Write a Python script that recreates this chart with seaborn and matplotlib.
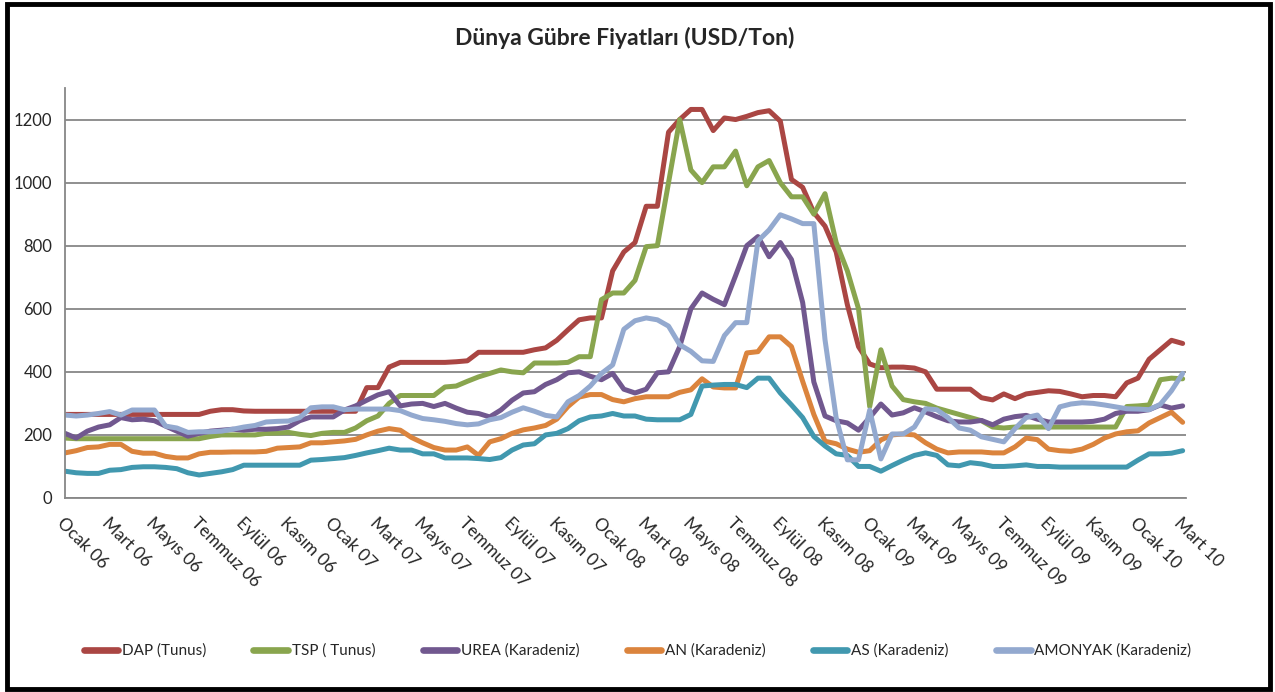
import numpy as np
import pandas as pd
import matplotlib
matplotlib.use("Agg")
import matplotlib.pyplot as plt
from matplotlib.lines import Line2D
from matplotlib.patches import Rectangle
import seaborn as sns

# Yarım aylık okumalar, Ocak 2006 - Mart 2010 (USD/Ton)
DAP = [265, 265, 265, 265, 265, 265, 265, 265, 265, 265,
       265, 265, 265, 275, 280, 280, 276, 275, 275, 275,
       275, 275, 275, 275, 275, 275, 275, 350, 350, 415,
       430, 430, 430, 430, 430, 432, 435, 462, 462, 462,
       462, 462, 470, 476, 500, 533, 565, 571, 571, 720,
       780, 810, 925, 925, 1160, 1200, 1232, 1232, 1165, 1205,
       1200, 1210, 1222, 1228, 1195, 1010, 985, 905, 862, 780,
       613, 480, 425, 413, 415, 415, 412, 400, 345, 345,
       345, 345, 318, 311, 330, 315, 330, 335, 340, 338,
       330, 321, 325, 325, 321, 365, 380, 440, 470, 500,
       490]

TSP = [190, 188, 188, 188, 188, 188, 188, 188, 188, 188,
       188, 188, 188, 195, 200, 200, 200, 200, 205, 206,
       208, 202, 198, 205, 208, 208, 222, 245, 260, 300,
       325, 325, 325, 325, 352, 355, 370, 384, 395, 406,
       400, 397, 428, 428, 428, 430, 448, 448, 629, 650,
       650, 690, 797, 800, 1000, 1200, 1040, 1000, 1050, 1050,
       1100, 990, 1050, 1070, 1000, 955, 955, 900, 965, 810,
       720, 600, 290, 470, 355, 312, 305, 300, 285, 275,
       265, 255, 245, 225, 222, 225, 225, 225, 225, 225,
       225, 225, 225, 225, 225, 290, 292, 295, 375, 380,
       378]

UREA = [205, 190, 212, 225, 232, 255, 248, 250, 245, 228,
        212, 196, 205, 212, 215, 218, 215, 218, 218, 220,
        225, 245, 257, 257, 257, 279, 292, 310, 327, 337,
        292, 298, 300, 290, 300, 285, 272, 268, 257, 279,
        310, 333, 337, 360, 375, 397, 400, 386, 375, 395,
        345, 333, 345, 397, 400, 480, 600, 650, 630, 613,
        705, 800, 829, 765, 810, 756, 620, 368, 260, 245,
        238, 215, 255, 298, 263, 270, 286, 273, 258, 245,
        241, 241, 246, 232, 250, 258, 262, 250, 241, 241,
        241, 241, 243, 250, 268, 275, 275, 280, 295, 285,
        292]

AN = [143, 150, 160, 162, 170, 170, 148, 142, 142, 132,
      127, 127, 140, 145, 145, 146, 146, 146, 148, 158,
      160, 162, 175, 175, 178, 181, 186, 200, 212, 220,
      215, 192, 175, 160, 152, 152, 162, 135, 178, 188,
      205, 216, 222, 230, 250, 290, 320, 328, 328, 312,
      305, 315, 321, 321, 321, 335, 343, 378, 352, 349,
      349, 460, 464, 511, 511, 480, 370, 265, 180, 172,
      155, 145, 150, 184, 200, 203, 200, 175, 155, 143,
      146, 146, 146, 143, 143, 162, 190, 185, 155, 150,
      148, 155, 170, 190, 203, 210, 213, 238, 255, 272,
      240]

AS = [85, 80, 78, 78, 88, 90, 97, 99, 99, 97,
      93, 80, 73, 78, 83, 90, 104, 104, 104, 104,
      104, 104, 120, 122, 125, 128, 135, 143, 150, 158,
      152, 152, 140, 140, 127, 127, 127, 125, 122, 128,
      152, 168, 172, 200, 205, 220, 245, 257, 260, 268,
      260, 260, 250, 248, 248, 248, 265, 355, 358, 360,
      360, 350, 380, 380, 333, 295, 255, 195, 165, 140,
      135, 100, 100, 85, 103, 120, 135, 143, 135, 105,
      102, 112, 108, 100, 100, 102, 105, 100, 100, 98,
      98, 98, 98, 98, 98, 98, 120, 140, 140, 142,
      150]

AMONYAK = [263, 260, 263, 268, 274, 263, 279, 279, 279, 228,
           222, 208, 210, 210, 212, 218, 225, 230, 241, 243,
           244, 255, 286, 289, 289, 280, 282, 282, 282, 282,
           277, 263, 252, 248, 243, 236, 232, 235, 248, 255,
           272, 286, 275, 262, 257, 305, 325, 355, 395, 422,
           535, 562, 571, 565, 545, 486, 465, 435, 433, 515,
           556, 556, 815, 850, 898, 885, 870, 870, 502, 254,
           121, 121, 279, 124, 203, 203, 225, 283, 280, 255,
           222, 215, 194, 186, 178, 220, 255, 263, 220, 289,
           298, 302, 300, 295, 289, 283, 282, 280, 297, 340,
           395]

seriler = ["DAP (Tunus)", "TSP ( Tunus)", "UREA (Karadeniz)",
           "AN (Karadeniz)", "AS (Karadeniz)", "AMONYAK (Karadeniz)"]
renkler = ["#AA4643", "#89A54E", "#71588F", "#DB843D", "#4198AF", "#93A9CF"]

etiketler = []
for yil in ["06", "07", "08", "09"]:
    for ay in ["Ocak", "Mart", "Mayıs", "Temmuz", "Eylül", "Kasım"]:
        etiketler.append(f"{ay} {yil}")
etiketler += ["Ocak 10", "Mart 10"]

degerler = [DAP, TSP, UREA, AN, AS, AMONYAK]
ay_ekseni = np.arange(len(DAP)) / 2  # yarım ay adımları, ay cinsinden
df = pd.concat([pd.DataFrame({"ay": ay_ekseni, "fiyat": v, "seri": s})
                for s, v in zip(seriler, degerler)], ignore_index=True)

sns.set_style("white")
plt.rcParams["font.family"] = ["Lato", "DejaVu Sans"]

W, H = 1275, 692
fig = plt.figure(figsize=(W / 100, H / 100), dpi=100)
ax = fig.add_axes([65 / W, 1 - 498 / H, (1186 - 65) / W, (498 - 88) / H])

sns.lineplot(data=df, x="ay", y="fiyat", hue="seri", hue_order=seriler,
             palette=renkler, linewidth=3.6, ax=ax, legend=False,
             solid_joinstyle="round", solid_capstyle="round")

gri = "#878787"
ax.set_xlim(0, 50.15)
ax.set_ylim(0, 1300)
ax.set_yticks(range(0, 1201, 200))
ax.set_xticks(np.arange(0, 51, 2))
ax.set_xticklabels(etiketler, rotation=-45, ha="left", va="top",
                   rotation_mode="anchor")
ax.yaxis.grid(True, color=gri, lw=1.3)
ax.set_axisbelow(True)
for s in ["top", "right"]:
    ax.spines[s].set_visible(False)
for s in ["left", "bottom"]:
    ax.spines[s].set_color(gri)
    ax.spines[s].set_linewidth(1.3)
ax.tick_params(axis="x", length=7, width=1.3, color=gri, pad=5, labelsize=12.5)
ax.tick_params(axis="y", length=5, width=1.3, color=gri, pad=4, labelsize=12)
ax.set_xlabel("")
ax.set_ylabel("")

fig.text(625 / W, 1 - 38 / H, "Dünya Gübre Fiyatları (USD/Ton)",
         ha="center", va="center", fontsize=16.5, fontweight="bold")

tutamaclar = [Line2D([0], [0], color=c, lw=4.8, solid_capstyle="round")
              for c in renkler]
fig.legend(tutamaclar, seriler, ncol=6, loc="center",
           bbox_to_anchor=(0.5, 1 - 651 / H), frameon=False, fontsize=11,
           handlelength=2.25, handletextpad=0.25, columnspacing=3.1)

fig.add_artist(Rectangle((7 / W, 3 / H), (1270 - 7) / W, (688 - 3) / H,
                         transform=fig.transFigure, fill=False,
                         ec="black", lw=3.5))

fig.savefig("out.png", dpi=100)
